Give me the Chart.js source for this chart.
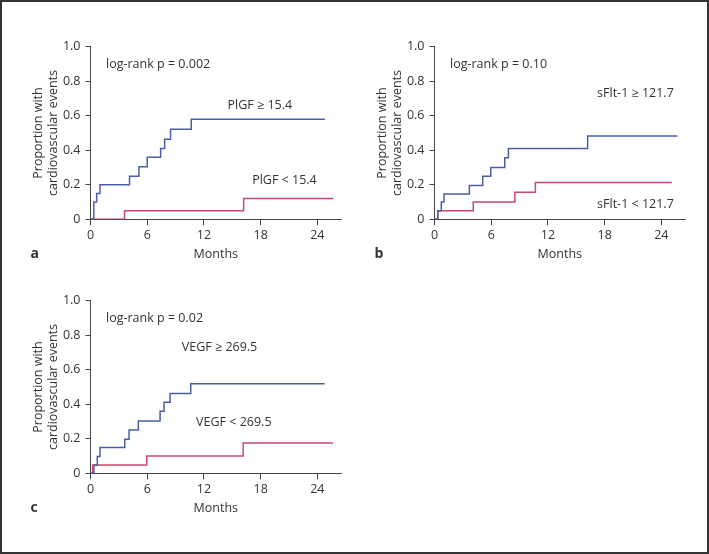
<!DOCTYPE html>
<html><head><meta charset="utf-8">
<script src="https://cdn.jsdelivr.net/npm/chart.js@4.4.0/dist/chart.umd.min.js"></script>
<style>
html,body{margin:0;padding:0;background:#fff;}
#frame{position:absolute;left:0;top:0;width:709px;height:554px;box-sizing:border-box;border:2px solid #333;}
canvas{position:absolute;}
</style></head><body>
<div id="frame"></div>
<canvas id="ca" width="354" height="274" style="left:0;top:0"></canvas>
<canvas id="cb" width="354" height="274" style="left:344px;top:0"></canvas>
<canvas id="cc" width="354" height="274" style="left:0;top:254px"></canvas>
<script>
// ---- data ----
const xTicks = [0, 6, 12, 18, 24];
const yTicks = [0, 0.2, 0.4, 0.6, 0.8, 1.0];
const xTitle = 'Months';
const yTitle = ['Proportion with', 'cardiovascular events'];

// Panel a: PlGF
const plgfHighMonths = [0, 0.35, 0.65, 1.0, 4.13, 5.12, 6.0, 7.42, 7.84, 8.47, 10.66, 24.8];
const plgfHighProp   = [0, 0.10, 0.15, 0.20, 0.25, 0.305, 0.36, 0.41, 0.464, 0.522, 0.58, 0.58];
const plgfLowMonths  = [0, 3.6, 16.2, 25.7];
const plgfLowProp    = [0, 0.05, 0.12, 0.12];

// Panel b: sFlt-1
const sfltHighMonths = [0, 0.34, 0.72, 1.0, 3.69, 5.1, 5.95, 7.43, 7.82, 16.2, 25.7];
const sfltHighProp   = [0, 0.05, 0.10, 0.147, 0.196, 0.25, 0.30, 0.356, 0.41, 0.483, 0.483];
const sfltLowMonths  = [0, 0.34, 4.1, 8.5, 10.67, 25.1];
const sfltLowProp    = [0, 0.05, 0.10, 0.157, 0.213, 0.213];

// Panel c: VEGF
const vegfHighMonths = [0, 0.37, 0.72, 1.0, 3.62, 4.08, 5.06, 7.36, 7.78, 8.42, 10.6, 24.76];
const vegfHighProp   = [0, 0.048, 0.097, 0.149, 0.197, 0.251, 0.303, 0.359, 0.411, 0.463, 0.519, 0.519];
const vegfLowMonths  = [0, 0.23, 5.95, 16.15, 25.65];
const vegfLowProp    = [0, 0.048, 0.10, 0.176, 0.176];

const panelLetters = ['a', 'b', 'c'];
const pTexts = ['log-rank p = 0.002', 'log-rank p = 0.10', 'log-rank p = 0.02'];
const highLabels = ['PlGF \u2265 15.4', 'sFlt-1 \u2265 121.7', 'VEGF \u2265 269.5'];
const lowLabels  = ['PlGF < 15.4', 'sFlt-1 < 121.7', 'VEGF < 269.5'];

// ---- style ----
const BLUE = '#4a5ea6';
const RED = '#c94a6c';
const AXIS = '#444';
const TXT = '#333';
const FONT = '"Open Sans", "DejaVu Sans", sans-serif';

const pts = (xs, ys) => xs.map((v, i) => ({x: v, y: ys[i]}));

const annot = {
  id: 'annot',
  afterDraw(chart, args, opts) {
    const {ctx, scales: {x, y}, chartArea} = chart;
    ctx.save();
    ctx.fillStyle = TXT;
    ctx.font = '12.5px ' + FONT;
    ctx.textBaseline = 'middle';
    ctx.textAlign = 'left';
    opts.items.forEach(it => ctx.fillText(it.text, x.getPixelForValue(it.x), y.getPixelForValue(it.y)));
    ctx.font = 'bold 14px ' + FONT;
    ctx.fillText(opts.letter, chartArea.left - 60, chartArea.bottom + 35);
    ctx.restore();
  }
};

function build(id, hi, lo, items, letter) {
  new Chart(document.getElementById(id), {
    type: 'line',
    data: {
      datasets: [
        {data: pts(hi[0], hi[1]), borderColor: BLUE, borderWidth: 1.5, stepped: 'before', pointRadius: 0, fill: false},
        {data: pts(lo[0], lo[1]), borderColor: RED, borderWidth: 1.5, stepped: 'before', pointRadius: 0, fill: false}
      ]
    },
    options: {
      responsive: false,
      animation: false,
      events: [],
      layout: {padding: {left: 0, right: 13, top: 46.7, bottom: 0}},
      plugins: {
        legend: {display: false},
        tooltip: {enabled: false},
        annot: {items: items, letter: letter}
      },
      scales: {
        x: {
          type: 'linear', min: 0, max: 26.5,
          afterBuildTicks: s => { s.ticks = xTicks.map(v => ({value: v})); },
          afterFit: s => { s.height = 54.7; },
          grid: {drawOnChartArea: false, drawTicks: true, tickLength: 6, color: AXIS},
          border: {display: true, color: AXIS, width: 1},
          ticks: {color: TXT, font: {family: FONT, size: 12.5}, padding: 3, maxRotation: 0},
          title: {display: true, text: xTitle, color: TXT, font: {family: FONT, size: 12.5, lineHeight: 1.2}, padding: {top: 0, bottom: 12.5}}
        },
        y: {
          type: 'linear', min: 0, max: 1,
          afterBuildTicks: s => { s.ticks = yTicks.map(v => ({value: v})); },
          afterFit: s => { s.width = 90.5; },
          grid: {drawOnChartArea: false, drawTicks: true, tickLength: 5, color: AXIS},
          border: {display: true, color: AXIS, width: 1},
          ticks: {color: TXT, font: {family: FONT, size: 12.5}, padding: 5,
                  callback: v => v === 0 ? '0' : v.toFixed(1)},
          title: {display: true, text: yTitle, color: TXT, font: {family: FONT, size: 12.5, lineHeight: 1.2}, padding: {top: 30.5, bottom: 0}}
        }
      }
    },
    plugins: [annot]
  });
}

function go() {
  build('ca', [plgfHighMonths, plgfHighProp], [plgfLowMonths, plgfLowProp], [
    {text: pTexts[0], x: 1.64, y: 0.90},
    {text: highLabels[0], x: 14.5, y: 0.66},
    {text: lowLabels[0], x: 17.1, y: 0.228}
  ], panelLetters[0]);
  build('cb', [sfltHighMonths, sfltHighProp], [sfltLowMonths, sfltLowProp], [
    {text: pTexts[1], x: 1.64, y: 0.90},
    {text: highLabels[1], x: 17.2, y: 0.73},
    {text: lowLabels[1], x: 17.2, y: 0.089}
  ], panelLetters[1]);
  build('cc', [vegfHighMonths, vegfHighProp], [vegfLowMonths, vegfLowProp], [
    {text: pTexts[2], x: 1.64, y: 0.90},
    {text: highLabels[2], x: 9.66, y: 0.73},
    {text: lowLabels[2], x: 11.17, y: 0.297}
  ], panelLetters[2]);
}

if (document.fonts && document.fonts.load) {
  Promise.all([
    document.fonts.load('12.5px "Open Sans"'),
    document.fonts.load('bold 14px "Open Sans"')
  ]).then(go, go);
} else { go(); }
</script>
</body></html>
